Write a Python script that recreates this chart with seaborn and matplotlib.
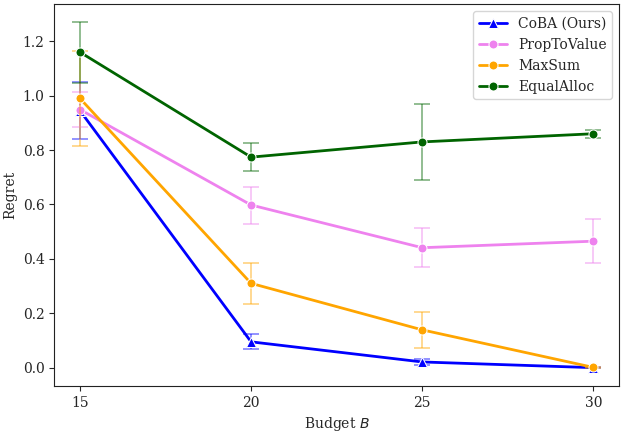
import numpy as np
import pandas as pd
import matplotlib
matplotlib.use("Agg")
import matplotlib.pyplot as plt
import seaborn as sns

# values
budgets = [15, 20, 25, 30]
methods = ["CoBA (Ours)", "PropToValue", "MaxSum", "EqualAlloc"]
coba_mean = [0.945, 0.095, 0.021, 0.0]
coba_err = [0.105, 0.027, 0.012, 0.003]
prop_mean = [0.949, 0.598, 0.441, 0.465]
prop_err = [0.064, 0.068, 0.071, 0.080]
maxsum_mean = [0.990, 0.310, 0.139, 0.001]
maxsum_err = [0.175, 0.076, 0.066, 0.002]
equal_mean = [1.160, 0.774, 0.830, 0.860]
equal_err = [0.112, 0.051, 0.139, 0.015]

colors = ["blue", "violet", "orange", "darkgreen"]
markers = ["^", "o", "o", "o"]
means = [coba_mean, prop_mean, maxsum_mean, equal_mean]
errs = [coba_err, prop_err, maxsum_err, equal_err]

sns.set_style("ticks")
plt.rcParams["font.family"] = ["DejaVu Serif"]
plt.rcParams["font.size"] = 10
plt.rcParams["mathtext.fontset"] = "dejavusans"

fig, ax = plt.subplots(figsize=(6.24, 4.34), dpi=100)

for name, m, e, c, mk in zip(methods, means, errs, colors, markers):
    df = pd.DataFrame({"Budget": budgets, "Regret": m})
    ax.errorbar(budgets, m, yerr=e, fmt="none", ecolor=c, alpha=0.5,
                capsize=6, elinewidth=1.2, capthick=1.2)
    sns.lineplot(data=df, x="Budget", y="Regret", ax=ax, color=c,
                 marker=mk, markersize=6.5, linewidth=2, label=name)

ax.set_xticks(budgets)
ax.set_xlabel("Budget $B$")
ax.set_ylabel("Regret")
for s in ax.spines.values():
    s.set_visible(True)
    s.set_color("#222222")
ax.legend(loc="upper right", fontsize=10)

fig.subplots_adjust(left=0.087, right=0.992, top=0.99, bottom=0.111)
plt.savefig("out.png", dpi=100)
plt.close()
